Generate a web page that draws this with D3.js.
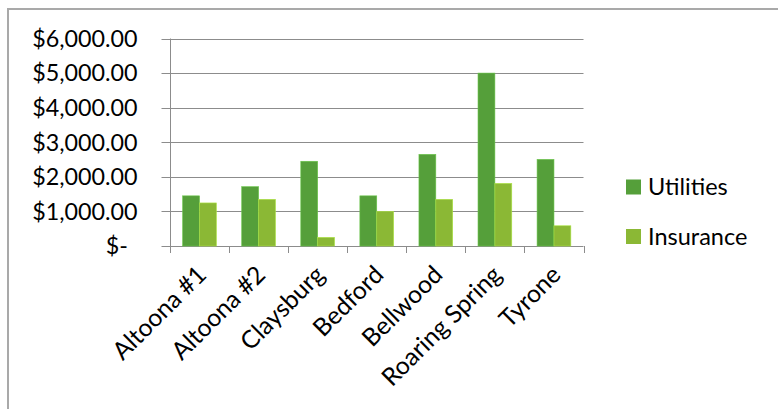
<!DOCTYPE html>
<html>
<head>
<meta charset="utf-8">
<script src="https://cdn.jsdelivr.net/npm/d3@7"></script>
<style>
  html, body { margin: 0; padding: 0; background: #fff; }
  svg { display: block; }
  text { font-family: Lato, "Open Sans", sans-serif; fill: #000; }
</style>
</head>
<body>
<svg id="chart" width="778" height="409"></svg>
<script>
// Monthly cost per location
const categories = ["Altoona #1", "Altoona #2", "Claysburg", "Bedford", "Bellwood", "Roaring Spring", "Tyrone"];
const seriesNames = ["Utilities", "Insurance"];
const utilities = [1450, 1715, 2450, 1450, 2650, 5000, 2505];
const insurance = [1245, 1350, 250, 1000, 1350, 1810, 585];
const yTicks = [0, 1000, 2000, 3000, 4000, 5000, 6000];
const colors = ["#559f3a", "#8bb835"];

const svg = d3.select("#chart");
const W = 778, H = 409;

// Chart frame (extends past the visible area on right and bottom)
svg.append("rect")
  .attr("x", 8).attr("y", 9)
  .attr("width", W + 20).attr("height", H + 20)
  .attr("fill", "#fff")
  .attr("stroke", "#a9a9a9").attr("stroke-width", 2);

const plot = { left: 170, right: 583.5, top: 38.5, bottom: 246 };

const x = d3.scaleBand().domain(categories).range([plot.left, plot.right]).paddingInner(0).paddingOuter(0);
const y = d3.scaleLinear().domain([0, 6000]).range([plot.bottom, plot.top]);

// Bars: gap width 150% of one bar
const barW = x.bandwidth() / (2 + 1.5);
const offset = (x.bandwidth() - 2 * barW) / 2;
const sub = d3.scaleBand().domain(seriesNames).range([0, 2 * barW]);

const fmt = v => v === 0 ? "$-" : "$" + d3.format(",.2f")(v);

// Gridlines
const g = svg.append("g");
g.selectAll("line.grid").data(yTicks).join("line")
  .attr("class", "grid")
  .attr("x1", plot.left - 8.5).attr("x2", plot.right)
  .attr("y1", d => Math.round(y(d)) + 0.5).attr("y2", d => Math.round(y(d)) + 0.5)
  .attr("stroke", "#8c8c8c").attr("stroke-width", 1);

// Vertical axis line
svg.append("line")
  .attr("x1", plot.left + 0.5).attr("x2", plot.left + 0.5)
  .attr("y1", plot.top).attr("y2", plot.bottom)
  .attr("stroke", "#8c8c8c");

// Category tick marks
const tickXs = categories.map(c => x(c)).concat([plot.right]);
svg.selectAll("line.ctick").data(tickXs).join("line")
  .attr("class", "ctick")
  .attr("x1", d => Math.round(d) + 0.5).attr("x2", d => Math.round(d) + 0.5)
  .attr("y1", plot.bottom).attr("y2", plot.bottom + 7)
  .attr("stroke", "#8c8c8c");

// Y labels
svg.selectAll("text.ylab").data(yTicks).join("text")
  .attr("class", "ylab")
  .attr("x", d => d === 0 ? 128 : 137.5)
  .attr("y", d => y(d))
  .attr("dy", "0.36em")
  .attr("text-anchor", "end")
  .style("font-size", "23.3px")
  .text(fmt);

// Bars
const data = categories.map((c, i) => ({ c, vals: [utilities[i], insurance[i]] }));
const groups = svg.append("g").selectAll("g").data(data).join("g")
  .attr("transform", d => `translate(${x(d.c) + offset},0)`);
groups.selectAll("rect").data(d => d.vals.map((v, k) => ({ v, k }))).join("rect")
  .attr("x", d => sub(seriesNames[d.k]))
  .attr("width", barW)
  .attr("y", d => y(d.v))
  .attr("height", d => y(0) - y(d.v))
  .attr("fill", d => colors[d.k])
  .attr("stroke", d => d3.color(colors[d.k]).brighter(0.6))
  .attr("stroke-width", 0.6);

// Category labels rotated -45°
svg.selectAll("text.xlab").data(categories).join("text")
  .attr("class", "xlab")
  .attr("text-anchor", "end")
  .attr("transform", d => `translate(${x(d) + x.bandwidth() / 2 + 2},${plot.bottom + 24}) rotate(-45)`)
  .attr("dy", "0.36em")
  .style("font-size", "24.7px")
  .text(d => d);

// Legend
const legend = svg.append("g");
const legY = [187, 236.5];
seriesNames.forEach((n, i) => {
  legend.append("rect")
    .attr("x", 626).attr("y", legY[i] - 7.5)
    .attr("width", 15).attr("height", 15)
    .attr("fill", colors[i]);
  legend.append("text")
    .attr("x", 648).attr("y", legY[i])
    .attr("dy", "0.36em")
    .style("font-size", "23.5px")
    .text(n);
});
</script>
</body>
</html>
